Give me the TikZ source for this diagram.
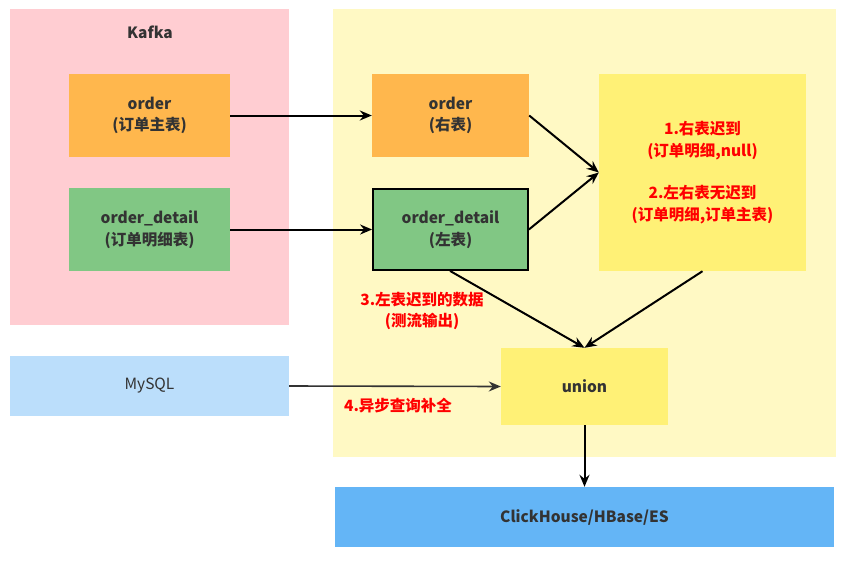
\documentclass[tikz,border=0pt]{standalone}
\usepackage{fontspec}
\setmainfont{Noto Sans CJK SC}
\usetikzlibrary{arrows.meta}
\definecolor{kpink}{HTML}{FFCDD2}
\definecolor{pyellow}{HTML}{FFF9C4}
\definecolor{korange}{HTML}{FFB74D}
\definecolor{kgreen}{HTML}{81C784}
\definecolor{byellow}{HTML}{FFF176}
\definecolor{lblue}{HTML}{BBDEFB}
\definecolor{dblue}{HTML}{64B5F6}
\definecolor{txt}{HTML}{333333}
\definecolor{redt}{HTML}{FF0000}
\tikzset{
  box/.style={inner sep=0pt, align=center, font=\fontsize{15.5}{21.5}\selectfont\bfseries, text=txt},
  arr/.style={line width=2pt, -{Stealth[length=12pt,width=10pt,inset=4pt]}},
  redlbl/.style={text=redt, align=center, font=\fontsize{15.5}{21.5}\selectfont\bfseries, inner sep=0pt},
}
\begin{document}
\begin{tikzpicture}[x=1pt,y=-1pt]
\useasboundingbox (0,0) rectangle (844,560);
% panels
\fill[kpink] (10,9) rectangle (289,325);
\fill[pyellow] (333,9) rectangle (836,457);
\node[box] (kafka) at (150,32) {Kafka};
% Kafka boxes
\node[box, fill=korange, minimum width=161pt, minimum height=83pt] (ko) at (149.5,115.5) {order\\(订单主表)};
\node[box, fill=kgreen, minimum width=161pt, minimum height=83pt] (kd) at (149.5,229.5) {order\_detail\\(订单明细表)};
% right boxes
\node[box, fill=korange, minimum width=157pt, minimum height=83pt] (ro) at (450.5,115.5) {order\\(右表)};
\node[box, fill=kgreen, draw=black, line width=1.8pt, minimum width=155pt, minimum height=81pt] (rd) at (450.5,229.5) {order\_detail\\(左表)};
\node[redlbl, fill=byellow, minimum width=207pt, minimum height=197pt] (big) at (702.5,172.5) {1.右表迟到\\(订单明细,null)\\[21pt]2.左右表无迟到\\(订单明细,订单主表)};
\node[box, fill=byellow, minimum width=167pt, minimum height=77pt] (union) at (584.5,386.5) {union};
\node[box, fill=lblue, minimum width=279pt, minimum height=60pt, font=\fontsize{15.5}{21.5}\selectfont] (mysql) at (149.5,386) {MySQL};
\node[box, fill=dblue, minimum width=499pt, minimum height=60pt] (ch) at (584.5,517) {ClickHouse/HBase/ES};
% arrows
\draw[arr] (ko.east) -- (ro.west);
\draw[arr] (kd.east) -- (rd.west);
\coordinate (bigin) at (big.west);
\draw[arr] (ro.east) -- (bigin);
\draw[arr] (rd.east) -- (bigin);
\coordinate (uin) at (union.north);
\draw[arr] ([xshift=-0.5pt]rd.south) -- (uin);
\draw[arr] (big.south) -- (uin);
\draw[arr, draw=txt, line width=1.6pt] (mysql.east) -- (union.west);
\draw[arr] (union.south) -- (ch.north);
% labels
\node[redlbl] (l3) at (422,311) {3.左表迟到的数据\\(测流输出)};
\node[redlbl] (l4) at (398,406) {4.异步查询补全};
\end{tikzpicture}
\end{document}
